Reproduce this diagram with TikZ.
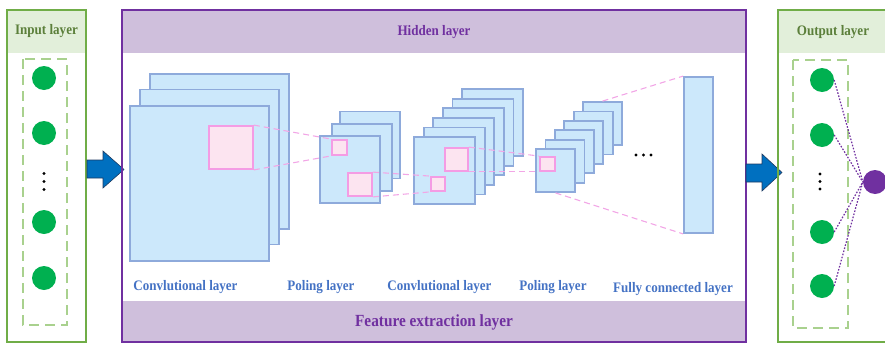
\documentclass[tikz,border=0pt]{standalone}
\usepackage{fontspec}
\setmainfont{Liberation Serif}[FakeStretch=0.9]
\definecolor{mapfill}{HTML}{CCE8FB}
\definecolor{mapline}{HTML}{8EAADB}
\definecolor{pinkfill}{HTML}{FCE4F0}
\definecolor{pinkline}{HTML}{F49CE4}
\definecolor{pinkdash}{HTML}{F2A6E6}
\definecolor{purpleline}{HTML}{7030A0}
\definecolor{purplefill}{HTML}{CFBFDC}
\definecolor{greenline}{HTML}{70AD47}
\definecolor{greenfill}{HTML}{E2EFDA}
\definecolor{greentext}{HTML}{5B7F3A}
\definecolor{greendash}{HTML}{A9D18E}
\definecolor{neuron}{HTML}{00B050}
\definecolor{labelblue}{HTML}{4472C4}
\definecolor{arrowblue}{HTML}{0070C0}
\definecolor{arrowedge}{HTML}{1F3A60}
\tikzset{
  fmap/.style 2 args={draw=mapline, fill=mapfill, line width=1.8pt, inner sep=0pt,
    minimum width=#1, minimum height=#2},
  kernel/.style 2 args={draw=pinkline, fill=pinkfill, line width=1.8pt, inner sep=0pt,
    minimum width=#1, minimum height=#2},
  link/.style={draw=pinkdash, line width=1.1pt, dash pattern=on 6pt off 4pt},
  neuronnode/.style={circle, fill=neuron, inner sep=0pt, minimum size=24pt},
  outnode/.style={circle, fill=purpleline, inner sep=0pt, minimum size=24pt},
  wire/.style={draw=purpleline, line width=1.2pt, dash pattern=on 1.6pt off 1.6pt},
  layerlabel/.style={text=labelblue, font=\fontsize{14.5}{16}\selectfont\bfseries},
  paneltitle/.style={font=\fontsize{14.5}{16}\selectfont\bfseries},
  bigarrow/.style={fill=arrowblue, draw=arrowedge, line width=0.6pt, line join=miter},
  vdots/.style={circle, fill=black, inner sep=0pt, minimum size=3.4pt},
}
\begin{document}
\begin{tikzpicture}[x=1pt, y=-1pt]
\useasboundingbox (0,0) rectangle (885,343);
\clip (0,0) rectangle (885,343);

% ---------------- input panel ----------------
\fill[greenfill] (7,10) rectangle (86,53);
\draw[greenline, line width=2.6pt] (7,10) rectangle (86,342);
\node[paneltitle, text=greentext] (intitle) at (46.5,31) {Input layer};
\draw[greendash, line width=1.3pt, dash pattern=on 10pt off 6pt] (23,59) rectangle (67,325);
\node[neuronnode] (i1) at (44,78) {};
\node[neuronnode] (i2) at (44,133) {};
\node[neuronnode] (i3) at (44,222) {};
\node[neuronnode] (i4) at (44,278) {};
\foreach \y in {173.5,181.5,189.5} \node[vdots] at (44,\y) {};

% arrow into the hidden panel
\draw[bigarrow] (87,160) -- (103,160) -- (103,151) -- (124,169.5) -- (103,188)
  -- (103,178) -- (87,178) -- cycle;

% ---------------- hidden panel ----------------
\fill[purplefill] (122,10) rectangle (746,53);
\fill[purplefill] (122,301) rectangle (746,342);
\draw[purpleline, line width=2.6pt] (122,10) rectangle (746,342);
\node[paneltitle, text=purpleline] (hidtitle) at (434,32) {Hidden layer};
\node[text=purpleline, font=\fontsize{17}{19}\selectfont\bfseries] (feat) at (434,322)
  {Feature extraction layer};

% first convolutional layer
\node[fmap={139pt}{155pt}] (c1c) at (219.5,151.5) {};
\node[fmap={139pt}{155pt}] (c1b) at (209.5,167) {};
\node[fmap={139pt}{155pt}] (c1a) at (199.5,183.5) {};
\node[kernel={44pt}{43pt}] (p1) at (231,147.5) {};

% first pooling layer
\node[fmap={60pt}{67pt}] (s1c) at (370,145) {};
\node[fmap={60pt}{67pt}] (s1b) at (362,157.5) {};
\node[fmap={60pt}{67pt}] (s1a) at (350,169.5) {};
\node[kernel={15pt}{15pt}] (p2) at (339.5,147.5) {};
\node[kernel={24pt}{23pt}] (p3) at (360,184.5) {};

% second convolutional layer
\foreach \i in {5,4,...,0}
  \node[fmap={61pt}{67pt}] (cv\i) at ({444.5+9.6*\i},{170.5-9.6*\i}) {};
\node[kernel={23pt}{23pt}] (p4) at (456.5,159.5) {};
\node[kernel={14pt}{14pt}] (p5) at (438,184) {};

% second pooling layer
\foreach \i in {5,4,...,0}
  \node[fmap={39pt}{43pt}] (sv\i) at ({555.5+9.4*\i},{170.5-9.4*\i}) {};
\node[kernel={15pt}{14pt}] (p6) at (547.5,164) {};

% fully connected layer
\node[fmap={29pt}{156pt}] (fc) at (698.5,155) {};
\foreach \x in {636,643.5,651} \node[vdots] at (\x,155) {};

% receptive-field links
\draw[link] (p1.north east) -- (p2.north west);
\draw[link] (p1.south east) -- (p2.south west);
\draw[link] (p3.north east) -- (p5.north west);
\draw[link] (p3.south east) -- (p5.south west);
\draw[link] (p4.north east) -- (p6.north west);
\draw[link] (p4.south east) -- (p6.south west);
\draw[link] (sv5.north) -- (fc.north west);
\draw[link] (sv0.south) -- (fc.south west);

% layer captions
\node[layerlabel] (l1) at (185.5,287) {Convlutional layer};
\node[layerlabel] (l2) at (321,287) {Poling layer};
\node[layerlabel] (l3) at (439.5,287) {Convlutional layer};
\node[layerlabel] (l4) at (553,287) {Poling layer};
\node[layerlabel] (l5) at (673,289) {Fully connected layer};

% arrow into the output panel
\draw[bigarrow] (746,164) -- (762,164) -- (762,154) -- (782,172.5) -- (762,191)
  -- (762,182) -- (746,182) -- cycle;

% ---------------- output panel ----------------
\fill[greenfill] (778,10) rectangle (900,53);
\draw[greenline, line width=2.6pt] (778,10) rectangle (900,342);
\node[paneltitle, text=greentext] (outtitle) at (833,32) {Output layer};
\draw[greendash, line width=1.3pt, dash pattern=on 10pt off 6pt] (793,60) rectangle (848,328);
\node[neuronnode] (o1) at (822,80) {};
\node[neuronnode] (o2) at (822,135) {};
\node[neuronnode] (o3) at (822,232) {};
\node[neuronnode] (o4) at (822,286) {};
\foreach \y in {174,181.5,189} \node[vdots] at (820,\y) {};
\node[outnode] (res) at (875,182) {};
\foreach \n in {o1,o2,o3,o4}
  \draw[wire] (\n.east) -- (res.west);
\end{tikzpicture}
\end{document}
